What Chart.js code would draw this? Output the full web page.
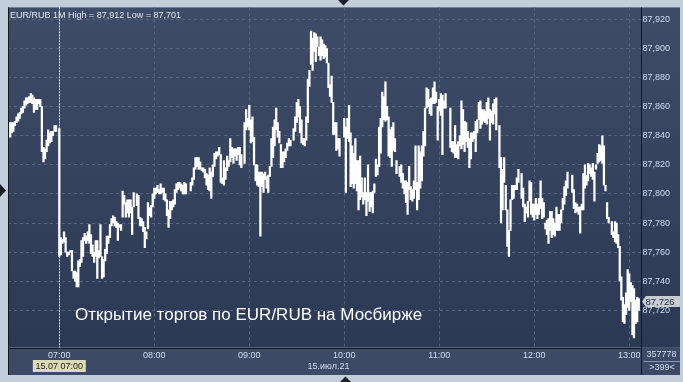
<!DOCTYPE html>
<html><head><meta charset="utf-8">
<script src="https://cdn.jsdelivr.net/npm/chart.js@4.4.1/dist/chart.umd.min.js"></script>
<style>html,body{margin:0;padding:0;background:#c3cedb;overflow:hidden}canvas{display:block}</style>
</head><body>
<canvas id="c" width="683" height="382"></canvas>
<script>
// ---- DATA ----
const chunkStarts = ["06:29","07:00","07:49","08:23","08:57","09:28","10:00","10:35","11:07","11:38","11:52","12:24","12:49"];
const chunkHighs = [
 [87.849,87.849,87.849,87.850,87.853,87.855,87.856,87.859,87.860,87.864,87.866,87.866,87.867,87.869,87.868,87.866,87.865,87.865,87.865,87.865,87.860,87.832,87.831,87.837,87.844,87.842,87.843,87.843,87.847,87.847],
 [87.845,87.770,87.769,87.774,87.770,87.760,87.760,87.761,87.761,87.747,87.747,87.746,87.754,87.755,87.768,87.770,87.773,87.771,87.774,87.779,87.772,87.765,87.760,87.768,87.768,87.761,87.779,87.757,87.755,87.762,87.771,87.771,87.779,87.783,87.785,87.784,87.781,87.780,87.779,87.779,87.802,87.799,87.794,87.796,87.796,87.796,87.791,87.801],
 [87.800,87.799,87.784,87.783,87.781,87.777,87.774,87.794,87.791,87.792,87.800,87.804,87.804,87.806,87.803,87.807,87.804,87.804,87.800,87.796,87.789,87.795,87.795,87.796,87.803,87.807,87.808,87.808,87.807,87.806,87.808,87.807],
 [87.808,87.811,87.818,87.825,87.825,87.825,87.822,87.818,87.818,87.817,87.814,87.813,87.818,87.815,87.820,87.828,87.829,87.829,87.832,87.827,87.811,87.823,87.818,87.826,87.823,87.838,87.832,87.831,87.831,87.831,87.832,87.832,87.827],
 [87.849,87.858,87.852,87.861,87.851,87.853,87.839,87.820,87.820,87.815,87.815,87.815,87.814,87.815,87.812,87.813,87.819,87.838,87.846,87.851,87.859,87.849,87.843,87.834,87.829,87.829,87.831,87.835,87.838,87.837],
 [87.845,87.853,87.863,87.865,87.860,87.851,87.838,87.838,87.853,87.879,87.885,87.912,87.907,87.911,87.910,87.908,87.901,87.908,87.906,87.903,87.902,87.900,87.890,87.875,87.881,87.863,87.849,87.849,87.838,87.838],
 [87.852,87.846,87.852,87.861,87.842,87.833,87.828,87.838,87.823,87.823,87.826,87.811,87.801,87.811,87.801,87.820,87.801,87.801,87.802,87.807,87.824,87.820,87.846,87.852,87.870,87.867,87.877,87.860,87.853,87.844,87.846,87.849,87.838,87.823],
 [87.819,87.820,87.814,87.809,87.809,87.808,87.819,87.805,87.803,87.809,87.833,87.808,87.833,87.829,87.833,87.843,87.859,87.873,87.872,87.865,87.866,87.873,87.877,87.870,87.860,87.865,87.869,87.868,87.864,87.869],
 [87.859,87.836,87.836,87.847,87.834,87.836,87.840,87.864,87.858,87.850,87.849,87.843,87.838,87.842,87.842,87.843,87.850,87.851,87.863,87.864,87.858,87.858,87.857,87.863,87.866,87.858,87.857,87.862,87.865,87.866],
 [87.847,87.825,87.817,87.825,87.806,87.789,87.775,87.796,87.806,87.806,87.806,87.811,87.817],
 [87.814,87.804,87.793,87.791,87.795,87.809,87.808,87.793,87.793,87.797,87.793,87.797,87.809,87.797,87.794,87.780,87.782,87.783,87.788,87.788,87.783,87.780,87.791,87.786,87.786,87.789,87.797,87.805,87.809,87.815],
 [87.813,87.803,87.794,87.793,87.791,87.791,87.793,87.814,87.820,87.813,87.821,87.820,87.818,87.821,87.815,87.820,87.828,87.834,87.833,87.840,87.833,87.806,87.794,87.784],
 [87.781,87.774,87.781,87.780,87.772,87.764,87.743,87.729,87.724,87.732,87.748,87.745,87.739,87.737,87.735,87.727,87.729,87.728]
];
const chunkLows = [
 [87.839,87.842,87.843,87.847,87.849,87.850,87.852,87.855,87.856,87.859,87.861,87.862,87.863,87.863,87.862,87.856,87.858,87.858,87.862,87.860,87.829,87.822,87.824,87.829,87.833,87.835,87.836,87.840,87.843,87.843],
 [87.757,87.758,87.766,87.767,87.760,87.757,87.758,87.760,87.747,87.742,87.740,87.736,87.736,87.750,87.753,87.757,87.768,87.766,87.768,87.766,87.759,87.757,87.753,87.757,87.742,87.756,87.757,87.742,87.743,87.754,87.759,87.766,87.770,87.778,87.780,87.778,87.777,87.768,87.777,87.775,87.784,87.793,87.784,87.787,87.784,87.787,87.772,87.791],
 [87.792,87.783,87.778,87.778,87.774,87.763,87.769,87.776,87.785,87.784,87.791,87.797,87.800,87.801,87.800,87.800,87.801,87.796,87.795,87.785,87.777,87.783,87.789,87.791,87.793,87.801,87.803,87.804,87.802,87.800,87.800,87.800],
 [87.802,87.806,87.810,87.817,87.819,87.817,87.817,87.816,87.815,87.811,87.806,87.803,87.802,87.797,87.812,87.819,87.824,87.826,87.827,87.808,87.807,87.806,87.810,87.816,87.819,87.822,87.825,87.821,87.826,87.823,87.827,87.820,87.818],
 [87.821,87.844,87.846,87.844,87.835,87.836,87.820,87.809,87.806,87.805,87.771,87.805,87.801,87.810,87.804,87.801,87.812,87.819,87.825,87.833,87.844,87.839,87.835,87.818,87.818,87.822,87.825,87.830,87.833,87.833],
 [87.837,87.843,87.849,87.853,87.842,87.835,87.834,87.833,87.837,87.849,87.874,87.889,87.885,87.898,87.891,87.901,87.895,87.892,87.895,87.893,87.894,87.890,87.873,87.867,87.863,87.841,87.841,87.830,87.831,87.826],
 [87.839,87.801,87.838,87.836,87.805,87.807,87.804,87.807,87.802,87.789,87.796,87.798,87.793,87.796,87.785,87.795,87.788,87.791,87.787,87.801,87.812,87.813,87.819,87.828,87.846,87.851,87.850,87.851,87.826,87.825,87.819,87.830,87.829,87.814],
 [87.812,87.808,87.804,87.800,87.794,87.786,87.803,87.796,87.795,87.797,87.803,87.789,87.796,87.804,87.809,87.826,87.833,87.859,87.860,87.855,87.854,87.862,87.862,87.863,87.837,87.857,87.854,87.827,87.859,87.859],
 [87.832,87.829,87.828,87.825,87.825,87.824,87.833,87.831,87.834,87.829,87.836,87.832,87.818,87.824,87.836,87.838,87.829,87.842,87.851,87.845,87.848,87.850,87.849,87.848,87.852,87.837,87.849,87.848,87.855,87.844],
 [87.818,87.780,87.789,87.808,87.789,87.764,87.757,87.775,87.796,87.797,87.803,87.803,87.808],
 [87.797,87.791,87.781,87.787,87.784,87.795,87.786,87.784,87.782,87.786,87.783,87.786,87.790,87.783,87.784,87.776,87.772,87.766,87.775,87.770,87.772,87.771,87.775,87.775,87.775,87.780,87.789,87.793,87.799,87.804],
 [87.801,87.790,87.787,87.788,87.786,87.773,87.789,87.789,87.804,87.806,87.809,87.814,87.812,87.810,87.795,87.817,87.821,87.822,87.823,87.821,87.806,87.802,87.783,87.780],
 [87.772,87.770,87.767,87.766,87.763,87.740,87.727,87.712,87.711,87.717,87.722,87.720,87.726,87.703,87.701,87.711,87.712,87.720]
];
const yTicks = [87.72,87.74,87.76,87.78,87.80,87.82,87.84,87.86,87.88,87.90,87.92];
const xTickLabels = ["07:00","08:00","09:00","10:00","11:00","12:00","13:00"];
const titleText = "EUR/RUB 1M High = 87,912 Low = 87,701";
const captionText = "Открытие торгов по EUR/RUB на Мосбирже";
const lastPrice = 87.726;
const cursorLabel = "15.07 07:00";
const cursorTime = "07:00";
const dateLabel = "15.июл.21";
const infoTop = "357778";
const infoBottom = ">399<";

// ---- BUILD ----
const FONT = '"Liberation Sans", Arial, sans-serif';
function toMin(t){const p=t.split(':').map(Number);return (p[0]-7)*60+p[1];}
const bars=[];
chunkStarts.forEach((s,i)=>{const m0=toMin(s);chunkHighs[i].forEach((h,j)=>bars.push({x:m0+j,y:[chunkLows[i][j],h]}));});
const fmt = v => v.toFixed(3).replace('.',',');

const bgPlugin = {
  id:'bg',
  beforeDraw(chart){
    const ctx=chart.ctx, ca=chart.chartArea;
    ctx.save();
    ctx.fillStyle='#c3cedb'; ctx.fillRect(0,0,683,382);
    ctx.fillStyle='#3d4a66'; ctx.fillRect(8,ca.bottom,672,375-ca.bottom);
    const g=ctx.createLinearGradient(0,ca.top,0,ca.bottom);
    g.addColorStop(0,'#3f4c67'); g.addColorStop(1,'#2c3954');
    ctx.fillStyle=g; ctx.fillRect(8,ca.top,672,ca.bottom-ca.top);
    ctx.restore();
  },
  beforeDatasetsDraw(chart){
    const ctx=chart.ctx, ca=chart.chartArea, xs=chart.scales.x;
    const x=Math.round(xs.getPixelForValue(toMin(cursorTime)))+0.5;
    ctx.save();
    ctx.strokeStyle='#e8ecf4'; ctx.lineWidth=1; ctx.setLineDash([2,1]);
    ctx.beginPath(); ctx.moveTo(x,ca.top); ctx.lineTo(x,ca.bottom); ctx.stroke();
    ctx.restore();
  },
  afterDraw(chart){
    const ctx=chart.ctx, ca=chart.chartArea, xs=chart.scales.x, ys=chart.scales.y;
    ctx.save();
    // bottom-right info panel
    ctx.fillStyle='#3d4a66'; ctx.fillRect(ca.right,ca.bottom,680-ca.right,375-ca.bottom);
    ctx.strokeStyle='#8a97ad'; ctx.lineWidth=1;
    ctx.beginPath(); ctx.moveTo(ca.right+3,361.5); ctx.lineTo(680,361.5); ctx.stroke();
    ctx.font='9px '+FONT; ctx.fillStyle='#d3def0'; ctx.textBaseline='middle'; ctx.textAlign='center';
    ctx.fillText(infoTop,661.5,355); ctx.fillText(infoBottom,662,367.5);
    // borders
    ctx.strokeStyle='#15181e'; ctx.lineWidth=1;
    ctx.beginPath();
    ctx.moveTo(8.5,ca.top); ctx.lineTo(8.5,375);
    ctx.moveTo(8,Math.round(ca.bottom)+0.5); ctx.lineTo(ca.right,Math.round(ca.bottom)+0.5);
    ctx.moveTo(Math.round(ca.right)+0.5,ca.top); ctx.lineTo(Math.round(ca.right)+0.5,375);
    ctx.stroke();
    // frame triangles
    ctx.fillStyle='#1c1f26';
    ctx.beginPath(); ctx.moveTo(0,184); ctx.lineTo(6,190.5); ctx.lineTo(0,197); ctx.fill();
    ctx.beginPath(); ctx.moveTo(338,0); ctx.lineTo(349,0); ctx.lineTo(343.5,5.5); ctx.fill();
    ctx.beginPath(); ctx.moveTo(340,382); ctx.lineTo(351,382); ctx.lineTo(345.5,376.5); ctx.fill();
    // title
    ctx.font='9px '+FONT; ctx.fillStyle='#e2e8f2'; ctx.textAlign='left'; ctx.textBaseline='alphabetic';
    ctx.fillText(titleText,10,18.3);
    // caption
    ctx.font='17px '+FONT; ctx.fillStyle='#ffffff'; ctx.textBaseline='middle';
    ctx.fillText(captionText,75,315);
    // last price box
    const py=ys.getPixelForValue(lastPrice);
    ctx.fillStyle='#c9cdd3';
    ctx.beginPath(); ctx.moveTo(642,py); ctx.lineTo(646,py-5.5); ctx.lineTo(680.5,py-5.5); ctx.lineTo(680.5,py+5.5); ctx.lineTo(646,py+5.5); ctx.closePath(); ctx.fill();
    ctx.fillStyle='#1b2a44'; ctx.font='9.5px '+FONT; ctx.textAlign='left';
    ctx.fillText(fmt(lastPrice),645.5,py+0.5);
    // cursor date box
    const cx=xs.getPixelForValue(toMin(cursorTime));
    ctx.font='9px '+FONT;
    ctx.fillStyle='#dcd9b6'; ctx.fillRect(cx-26.5,360,53,12);
    ctx.fillStyle='#1e1e1e'; ctx.textAlign='center'; ctx.fillText(cursorLabel,cx,366.5);
    // date label
    ctx.fillStyle='#d3def0'; ctx.fillText(dateLabel,328.5,366.5);
    ctx.restore();
  }
};

new Chart(document.getElementById('c'),{
  type:'bar',
  data:{datasets:[{data:bars,backgroundColor:'#ffffff',borderWidth:0,barThickness:1.6,grouped:false}]},
  options:{
    responsive:false, animation:false, devicePixelRatio:1,
    layout:{padding:{left:8,top:7,right:3,bottom:7}},
    plugins:{legend:{display:false},tooltip:{enabled:false}},
    scales:{
      x:{type:'linear',min:-32.4,max:367.1,offset:false,
        afterBuildTicks:s=>{s.ticks=xTickLabels.map(l=>({value:toMin(l)}));},
        afterFit:s=>{s.height=27.5;},
        grid:{color:c=>(c.tick&&c.tick.value===toMin(cursorTime))?'rgba(0,0,0,0)':'#56657f',lineWidth:1,drawTicks:false,offset:false},
        border:{display:false,dash:[3,3]},
        ticks:{color:'#d3def0',font:{family:FONT,size:9},padding:3,maxRotation:0,autoSkip:false,
          callback:(v,i)=>xTickLabels[i]}},
      y:{type:'linear',position:'right',min:87.69443,max:87.92825,
        afterBuildTicks:s=>{s.ticks=yTicks.map(v=>({value:v}));},
        afterFit:s=>{s.width=39.5;},
        grid:{color:'#56657f',lineWidth:1,drawTicks:false},
        border:{display:false,dash:[3,3]},
        ticks:{color:'#cfdcf2',font:{family:FONT,size:9},padding:2,callback:v=>fmt(v)}}
    }
  },
  plugins:[bgPlugin]
});
</script>
</body></html>
